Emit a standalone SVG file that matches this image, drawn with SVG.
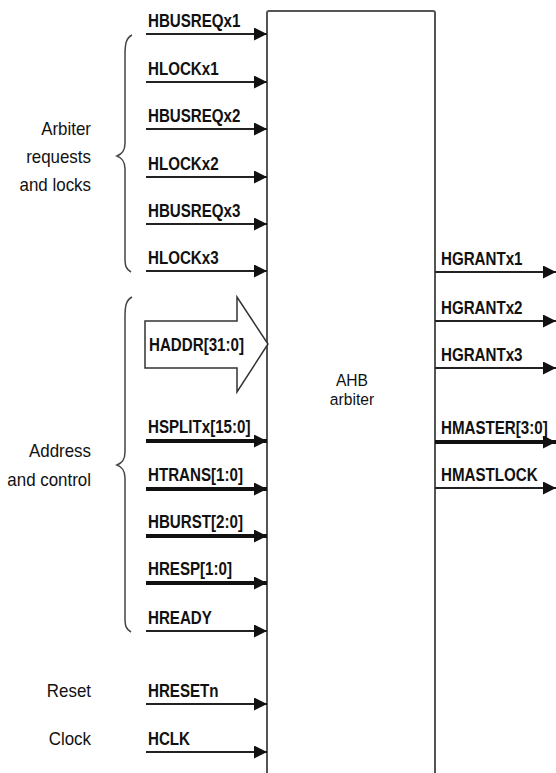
<svg xmlns="http://www.w3.org/2000/svg" width="556" height="773" viewBox="0 0 556 773">
  <style>
    .sig { font-family: "Liberation Sans", Arial, sans-serif; font-weight: bold; font-size: 18.5px; fill: #111; transform: scaleX(0.818); }
    .grp { font-family: "Liberation Sans", Arial, sans-serif; font-size: 18px; fill: #111; text-anchor: end; transform: scaleX(0.94); }
    .title { font-family: "Liberation Sans", Arial, sans-serif; font-size: 17px; fill: #111; text-anchor: middle; transform: scaleX(0.92); }
    .wire { stroke: #222; stroke-width: 2; fill: none; marker-end: url(#head); }
    .bus { stroke: #111; stroke-width: 4; fill: none; marker-end: url(#head); }
    .brace { stroke: #444; stroke-width: 1.5; fill: none; }
    .block { stroke: #555; stroke-width: 2; fill: #fff; }
  </style>
  <defs>
    <marker id="head" markerUnits="userSpaceOnUse" markerWidth="13" markerHeight="13" refX="13" refY="6.5" orient="auto">
      <path d="M0,0 L13,6.5 L0,13 z" fill="#111"/>
    </marker>
  </defs>

  <!-- arbiter block -->
  <g id="arbiter">
    <rect class="block" x="267" y="11" width="168" height="800" rx="2"/>
    <text class="title" x="382.6" y="386">AHB</text>
    <text class="title" x="382.6" y="405">arbiter</text>
  </g>

  <!-- group labels and braces -->
  <g id="group-requests">
    <text class="grp" x="96.8" y="135">Arbiter</text>
    <text class="grp" x="96.8" y="163">requests</text>
    <text class="grp" x="96.8" y="191">and locks</text>
    <path class="brace" d="M132,35 C126,38 125,44 125,55 L125,143 C125,151 122,154 117,156 C122,158 125,161 125,169 L125,258 C125,266 126,269 131,272"/>
  </g>
  <g id="group-address">
    <text class="grp" x="96.8" y="457">Address</text>
    <text class="grp" x="96.8" y="486">and control</text>
    <path class="brace" d="M132,297 C126,300 125,306 125,317 L125,452 C125,460 122,463 117,465 C122,467 125,470 125,478 L125,618 C125,626 126,629 131,632"/>
  </g>
  <g id="group-reset">
    <text class="grp" x="96.8" y="697">Reset</text>
  </g>
  <g id="group-clock">
    <text class="grp" x="96.8" y="745">Clock</text>
  </g>

  <!-- address bus arrow -->
  <g id="haddr">
    <polygon points="145,321 237,321 237,297 268,344 237,392 237,368 145,368" fill="#fff" stroke="#333" stroke-width="1.5"/>
    <text class="sig" x="182.2" y="351">HADDR[31:0]</text>
  </g>

  <!-- connectors -->
  <g id="connectors">
    <line class="wire" x1="146" y1="34" x2="267" y2="34"/>
    <line class="wire" x1="146" y1="82" x2="267" y2="82"/>
    <line class="wire" x1="146" y1="129" x2="267" y2="129"/>
    <line class="wire" x1="146" y1="177" x2="267" y2="177"/>
    <line class="wire" x1="146" y1="224" x2="267" y2="224"/>
    <line class="wire" x1="146" y1="271" x2="267" y2="271"/>
    <line class="bus" x1="146" y1="441" x2="267" y2="441"/>
    <line class="bus" x1="146" y1="489" x2="267" y2="489"/>
    <line class="bus" x1="146" y1="536" x2="267" y2="536"/>
    <line class="bus" x1="146" y1="583" x2="267" y2="583"/>
    <line class="wire" x1="146" y1="631" x2="267" y2="631"/>
    <line class="wire" x1="146" y1="704" x2="267" y2="704"/>
    <line class="wire" x1="146" y1="752" x2="267" y2="752"/>
    <line class="wire" x1="435" y1="272" x2="556" y2="272"/>
    <line class="wire" x1="435" y1="321" x2="556" y2="321"/>
    <line class="wire" x1="435" y1="368" x2="556" y2="368"/>
    <line class="bus" x1="435" y1="442" x2="556" y2="442"/>
    <line class="wire" x1="435" y1="488" x2="556" y2="488"/>
  </g>

  <!-- signal names -->
  <g id="signals-in">
    <text class="sig" x="180.9" y="27">HBUSREQx1</text>
    <text class="sig" x="180.9" y="75">HLOCKx1</text>
    <text class="sig" x="180.9" y="122">HBUSREQx2</text>
    <text class="sig" x="180.9" y="170">HLOCKx2</text>
    <text class="sig" x="180.9" y="217">HBUSREQx3</text>
    <text class="sig" x="180.9" y="264">HLOCKx3</text>
    <text class="sig" x="180.9" y="433">HSPLITx[15:0]</text>
    <text class="sig" x="180.9" y="481">HTRANS[1:0]</text>
    <text class="sig" x="180.9" y="528">HBURST[2:0]</text>
    <text class="sig" x="180.9" y="575">HRESP[1:0]</text>
    <text class="sig" x="180.9" y="624">HREADY</text>
    <text class="sig" x="180.9" y="697">HRESETn</text>
    <text class="sig" x="180.9" y="745">HCLK</text>
  </g>
  <g id="signals-out">
    <text class="sig" x="539.1" y="265">HGRANTx1</text>
    <text class="sig" x="539.1" y="314">HGRANTx2</text>
    <text class="sig" x="539.1" y="361">HGRANTx3</text>
    <text class="sig" x="539.1" y="434">HMASTER[3:0]</text>
    <text class="sig" x="539.1" y="481">HMASTLOCK</text>
  </g>
</svg>
